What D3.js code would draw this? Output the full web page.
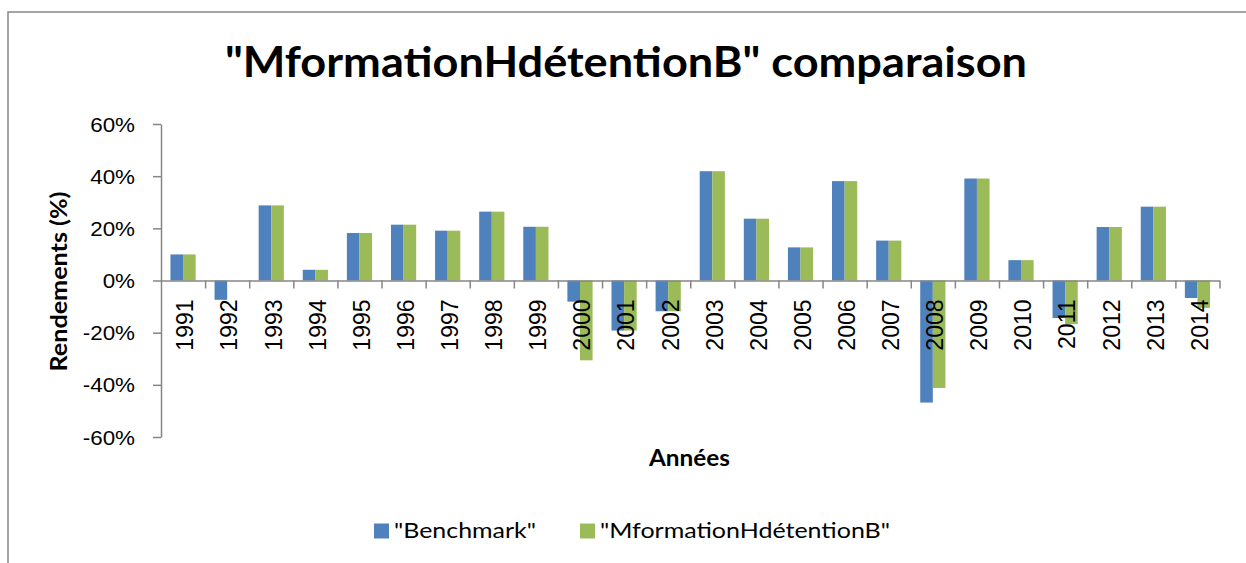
<!DOCTYPE html>
<html>
<head>
<meta charset="utf-8">
<script src="https://cdn.jsdelivr.net/npm/d3@7"></script>
<style>
  body { margin: 0; background: #fff; }
  svg { display: block; }
</style>
</head>
<body>
<script>
// chart data
const years = ["1991","1992","1993","1994","1995","1996","1997","1998","1999","2000","2001","2002",
               "2003","2004","2005","2006","2007","2008","2009","2010","2011","2012","2013","2014"];
const benchmark = [10, -7.4, 28.8, 4.1, 18.2, 21.4, 19.1, 26.4, 20.6, -8.1, -19.2, -11.8,
                   41.9, 23.7, 12.7, 38.1, 15.3, -46.8, 39.1, 7.8, -14.4, 20.5, 28.3, -6.7];
const fund = [10, 0, 28.8, 4.1, 18.2, 21.4, 19.1, 26.4, 20.6, -30.6, -19.2, -11.8,
              41.9, 23.7, 12.7, 38.1, 15.3, -41.2, 39.1, 7.8, -16.7, 20.5, 28.3, -10.5];
const seriesNames = ['"Benchmark"', '"MformationHdétentionB"'];
const colors = ["#4F81BD", "#9BBB59"];
const yTicks = [-60, -40, -20, 0, 20, 40, 60];

const W = 1246, H = 563;
const axisColor = "#868686";

const svg = d3.select("body").append("svg")
  .attr("width", W).attr("height", H);

// outer frame (left + top only visible)
svg.append("path")
  .attr("d", "M8,563 L8,12 L1246,12")
  .attr("fill", "none").attr("stroke", axisColor).attr("stroke-width", 1.5);

const plot = {left: 161, right: 1219.5, top: 124, bottom: 437};

const y = d3.scaleLinear().domain([-60, 60]).range([plot.bottom, plot.top]);
const x = d3.scaleBand().domain(years).range([plot.left, plot.right]).padding(0);
// gap width 75% like the spreadsheet default
const xs = d3.scaleBand().domain([0, 1])
  .range([0, x.bandwidth()]).paddingInner(0).paddingOuter(0.75);

// bars
const rows = years.map((yr, i) => ({year: yr, vals: [benchmark[i], fund[i]]}));
const groups = svg.append("g").selectAll("g").data(rows).enter().append("g")
  .attr("transform", d => "translate(" + x(d.year) + ",0)");
groups.selectAll("rect").data(d => d.vals.map((v, k) => ({v, k}))).enter().append("rect")
  .attr("x", d => xs(d.k))
  .attr("width", xs.bandwidth())
  .attr("y", d => y(Math.max(0, d.v)))
  .attr("height", d => Math.abs(y(d.v) - y(0)))
  .attr("fill", d => colors[d.k]);

// y axis
const yAxis = svg.append("g")
  .attr("transform", "translate(" + plot.left + ",0)")
  .call(d3.axisLeft(y).tickValues(yTicks).tickSize(8).tickSizeOuter(0)
          .tickFormat(d => d + "%"));
yAxis.selectAll("path, line").attr("stroke", axisColor).attr("stroke-width", 1.5);
yAxis.selectAll("text")
  .attr("x", null).attr("dy", null)
  .attr("fill", "#000")
  .style("font-family", "'Liberation Sans', Arial, sans-serif")
  .style("font-size", "20px")
  .attr("text-anchor", "end")
  .attr("dominant-baseline", "central")
  .attr("transform", "translate(-26,0) scale(1.12,1)");

// x axis (ticks at category boundaries)
const xb = d3.scaleLinear().domain([0, years.length]).range([plot.left, plot.right]);
const xAxis = svg.append("g")
  .attr("transform", "translate(0," + y(0) + ")")
  .call(d3.axisBottom(xb).tickValues(d3.range(1, years.length + 1)).tickSize(8)
          .tickSizeOuter(0).tickFormat(""));
xAxis.selectAll("path, line").attr("stroke", axisColor).attr("stroke-width", 1.5);

// year labels (drawn on top of bars)
svg.append("g").selectAll("text").data(years).enter().append("text")
  .attr("transform", d => "translate(" + (x(d) + x.bandwidth() / 2 + 1.5) + "," + (y(0) + 19) + ") rotate(-90) scale(1,1.08)")
  .attr("text-anchor", "end")
  .attr("dominant-baseline", "central")
  .style("font-family", "'Liberation Sans', Arial, sans-serif")
  .style("font-size", "23px")
  .text(d => d);

// title
svg.append("text")
  .attr("x", 626).attr("y", 77)
  .attr("text-anchor", "middle")
  .style("font-family", "Lato, sans-serif")
  .style("font-weight", "bold")
  .style("font-size", "42px")
  .attr("textLength", 802).attr("lengthAdjust", "spacingAndGlyphs")
  .text('"MformationHdétentionB" comparaison');

// axis titles
svg.append("text")
  .attr("transform", "translate(66.5," + (y(0) + 1) + ") rotate(-90)")
  .attr("text-anchor", "middle")
  .style("font-family", "Lato, sans-serif")
  .style("font-weight", "bold")
  .style("font-size", "23px")
  .attr("textLength", 180).attr("lengthAdjust", "spacingAndGlyphs")
  .text("Rendements (%)");

svg.append("text")
  .attr("x", 689.5).attr("y", 465.5)
  .attr("text-anchor", "middle")
  .style("font-family", "Lato, sans-serif")
  .style("font-weight", "bold")
  .style("font-size", "23px")
  .attr("textLength", 81).attr("lengthAdjust", "spacingAndGlyphs")
  .text("Années");

// legend
const legendItems = [
  {name: seriesNames[0], color: colors[0], x: 374, len: 142},
  {name: seriesNames[1], color: colors[1], x: 580, len: 290}
];
const lg = svg.append("g").selectAll("g").data(legendItems).enter().append("g")
  .attr("transform", d => "translate(" + d.x + ",0)");
lg.append("rect")
  .attr("x", 0).attr("y", 523.5).attr("width", 15).attr("height", 15)
  .attr("fill", d => d.color);
lg.append("text")
  .attr("x", 20).attr("y", 538)
  .style("font-family", "Lato, sans-serif")
  .style("font-size", "20.5px")
  .attr("textLength", d => d.len).attr("lengthAdjust", "spacingAndGlyphs")
  .text(d => d.name);
</script>
</body>
</html>
